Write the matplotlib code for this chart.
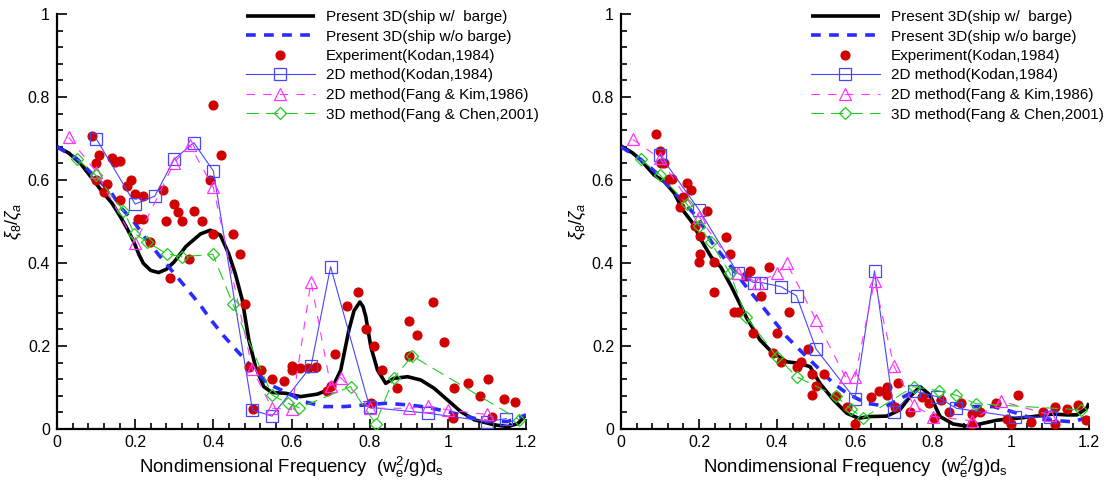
import matplotlib
matplotlib.use("Agg")
import matplotlib.pyplot as plt
from matplotlib.ticker import MultipleLocator

plt.rcParams['font.family'] = ['Liberation Sans', 'DejaVu Sans']
plt.rcParams['mathtext.fontset'] = 'custom'
plt.rcParams['mathtext.rm'] = 'Liberation Sans'
plt.rcParams['mathtext.it'] = 'Liberation Sans:italic'
plt.rcParams['mathtext.bf'] = 'Liberation Sans:bold'
plt.rcParams['lines.scale_dashes'] = False

# ---------------- LEFT PANEL DATA ----------------
L_w_x = [0.0, 0.03, 0.06, 0.093, 0.119, 0.14, 0.162, 0.18, 0.196, 0.21, 0.221, 0.24, 0.26, 0.28,
         0.30, 0.33, 0.367, 0.392, 0.418, 0.439, 0.456, 0.474, 0.491, 0.508, 0.529, 0.55, 0.585,
         0.623, 0.666, 0.704, 0.726, 0.747, 0.76, 0.775, 0.783, 0.79, 0.803, 0.82, 0.841, 0.862,
         0.897, 0.931, 0.965, 0.999, 1.033, 1.068, 1.119, 1.153, 1.179, 1.2]
L_w_y = [0.68, 0.665, 0.64, 0.60, 0.568, 0.545, 0.512, 0.482, 0.452, 0.42, 0.399, 0.382, 0.377, 0.385,
         0.403, 0.44, 0.47, 0.479, 0.467, 0.423, 0.375, 0.311, 0.214, 0.150, 0.102, 0.088, 0.086,
         0.078, 0.084, 0.098, 0.142, 0.239, 0.285, 0.306, 0.295, 0.271, 0.198, 0.142, 0.110, 0.122,
         0.126, 0.118, 0.098, 0.070, 0.042, 0.022, 0.010, 0.006, 0.013, 0.034]

L_wo_x = [0.0, 0.05, 0.1, 0.137, 0.165, 0.196, 0.23, 0.26, 0.32, 0.367, 0.392, 0.426, 0.461, 0.5,
          0.538, 0.591, 0.632, 0.683, 0.734, 0.79, 0.841, 0.9, 0.95, 0.999, 1.05, 1.10, 1.153, 1.2]
L_wo_y = [0.68, 0.652, 0.605, 0.572, 0.532, 0.50, 0.455, 0.42, 0.352, 0.298, 0.265, 0.225, 0.188, 0.148,
          0.11, 0.086, 0.066, 0.054, 0.054, 0.058, 0.062, 0.058, 0.052, 0.042, 0.030, 0.018, 0.018, 0.034]

L_exp_x = [0.089, 0.099, 0.108, 0.099, 0.121, 0.129, 0.140, 0.149, 0.160, 0.160, 0.180, 0.190, 0.199,
           0.219, 0.208, 0.220, 0.238, 0.270, 0.279, 0.290, 0.300, 0.309, 0.320, 0.339, 0.350, 0.370,
           0.391, 0.399, 0.399, 0.420, 0.450, 0.469, 0.480, 0.491, 0.501, 0.521, 0.550, 0.580, 0.600,
           0.602, 0.621, 0.642, 0.662, 0.691, 0.700, 0.711, 0.741, 0.771, 0.791, 0.811, 0.803, 0.832,
           0.871, 0.901, 0.921, 0.901, 0.961, 0.991, 1.016, 1.052, 1.083, 1.102, 1.012, 1.143, 1.173, 1.113]
L_exp_y = [0.706, 0.640, 0.660, 0.600, 0.570, 0.590, 0.652, 0.644, 0.646, 0.552, 0.586, 0.601, 0.566,
           0.562, 0.505, 0.507, 0.451, 0.576, 0.501, 0.365, 0.542, 0.522, 0.501, 0.410, 0.526, 0.501,
           0.600, 0.470, 0.781, 0.660, 0.471, 0.422, 0.301, 0.150, 0.048, 0.141, 0.120, 0.116, 0.152,
           0.141, 0.146, 0.148, 0.150, 0.092, 0.104, 0.181, 0.296, 0.331, 0.241, 0.201, 0.062, 0.141,
           0.100, 0.261, 0.226, 0.176, 0.305, 0.210, 0.100, 0.112, 0.080, 0.120, 0.027, 0.072, 0.066, 0.028]

L_kodan_x = [0.1, 0.2, 0.25, 0.3, 0.35, 0.4, 0.5, 0.55, 0.65, 0.7, 0.8, 0.95, 1.1, 1.15]
L_kodan_y = [0.700, 0.542, 0.561, 0.650, 0.690, 0.622, 0.046, 0.031, 0.151, 0.391, 0.052, 0.038, 0.018, 0.025]

L_kim_x = [0.03, 0.1, 0.2, 0.3, 0.34, 0.4, 0.5, 0.55, 0.6, 0.65, 0.7, 0.726, 0.8, 0.9, 0.95, 1.0, 1.1]
L_kim_y = [0.703, 0.620, 0.448, 0.642, 0.684, 0.582, 0.144, 0.050, 0.047, 0.355, 0.104, 0.124, 0.050,
           0.050, 0.055, 0.046, 0.035]

L_chen_x = [0.052, 0.099, 0.170, 0.198, 0.23, 0.281, 0.321, 0.399, 0.45, 0.55, 0.59, 0.62, 0.751,
            0.815, 0.861, 0.909, 1.183]
L_chen_y = [0.650, 0.612, 0.526, 0.471, 0.451, 0.422, 0.415, 0.421, 0.301, 0.082, 0.062, 0.051, 0.102,
            0.013, 0.122, 0.176, 0.022]

# ---------------- RIGHT PANEL DATA ----------------
R_w_x = [0.0, 0.03, 0.051, 0.085, 0.111, 0.137, 0.158, 0.184, 0.205, 0.231, 0.256, 0.282, 0.303, 0.322,
         0.356, 0.39, 0.425, 0.459, 0.485, 0.51, 0.545, 0.579, 0.609, 0.638, 0.681, 0.715, 0.741, 0.767,
         0.792, 0.818, 0.852, 0.886, 0.92, 0.963, 1.006, 1.057, 1.108, 1.143, 1.169, 1.194, 1.2]
R_w_y = [0.682, 0.665, 0.648, 0.612, 0.596, 0.568, 0.528, 0.496, 0.456, 0.415, 0.39, 0.345, 0.305, 0.268,
         0.215, 0.182, 0.162, 0.158, 0.150, 0.110, 0.070, 0.038, 0.026, 0.030, 0.031, 0.046, 0.078, 0.102,
         0.082, 0.030, 0.012, 0.007, 0.012, 0.021, 0.025, 0.030, 0.036, 0.034, 0.034, 0.05, 0.062]

R_wo_x = [0.0, 0.05, 0.1, 0.132, 0.167, 0.201, 0.231, 0.262, 0.295, 0.327, 0.356, 0.39, 0.425, 0.459,
          0.502, 0.527, 0.545, 0.579, 0.629, 0.68, 0.741, 0.792, 0.835, 0.895, 0.955, 1.002, 1.057,
          1.108, 1.16, 1.2]
R_wo_y = [0.68, 0.65, 0.61, 0.574, 0.540, 0.504, 0.452, 0.415, 0.375, 0.336, 0.303, 0.263, 0.222, 0.190,
          0.150, 0.126, 0.110, 0.086, 0.062, 0.055, 0.086, 0.078, 0.062, 0.054, 0.054, 0.042, 0.025,
          0.021, 0.017, 0.03]

R_exp_x = [0.090, 0.1, 0.103, 0.109, 0.124, 0.131, 0.169, 0.179, 0.160, 0.150, 0.221, 0.190,
           0.2, 0.203, 0.203, 0.239, 0.239, 0.269, 0.279, 0.290, 0.301, 0.320, 0.331, 0.360, 0.380,
           0.339, 0.401, 0.431, 0.391, 0.410, 0.450, 0.461, 0.480, 0.490, 0.520, 0.499, 0.490, 0.551,
           0.580, 0.600, 0.640, 0.661, 0.681, 0.681, 0.711, 0.702, 0.741, 0.771, 0.791, 0.803, 0.820,
           0.842, 0.871, 0.901, 0.901, 0.921, 0.961, 0.991, 1.001, 1.017, 1.051, 1.083, 1.113, 1.113,
           1.143, 1.173, 1.192]
R_exp_y = [0.711, 0.671, 0.642, 0.640, 0.602, 0.602, 0.592, 0.576, 0.560, 0.534, 0.526, 0.488,
           0.402, 0.466, 0.422, 0.402, 0.331, 0.462, 0.422, 0.283, 0.283, 0.369, 0.381, 0.321, 0.391,
           0.232, 0.232, 0.283, 0.182, 0.161, 0.150, 0.161, 0.193, 0.132, 0.132, 0.104, 0.082, 0.080,
           0.052, 0.012, 0.076, 0.091, 0.102, 0.082, 0.112, 0.052, 0.042, 0.078, 0.062, 0.027, 0.071,
           0.042, 0.062, 0.036, 0.013, 0.042, 0.062, 0.024, 0.013, 0.082, 0.018, 0.042, 0.052, 0.012,
           0.048, 0.058, 0.022]

R_kodan_x = [0.1, 0.2, 0.3, 0.34, 0.36, 0.41, 0.45, 0.5, 0.6, 0.65, 0.7, 0.75, 0.81, 0.86, 1.01, 1.1]
R_kodan_y = [0.660, 0.528, 0.375, 0.353, 0.353, 0.343, 0.321, 0.193, 0.072, 0.381, 0.041, 0.092, 0.078,
             0.050, 0.029, 0.028]

R_kim_x = [0.03, 0.1, 0.2, 0.3, 0.35, 0.4, 0.425, 0.5, 0.575, 0.6, 0.65, 0.7, 0.75, 0.8, 0.9, 0.975, 1.1]
R_kim_y = [0.698, 0.652, 0.512, 0.376, 0.353, 0.375, 0.400, 0.263, 0.126, 0.126, 0.356, 0.151, 0.058,
           0.030, 0.020, 0.067, 0.034]

R_chen_x = [0.05, 0.1, 0.17, 0.2, 0.23, 0.28, 0.32, 0.4, 0.45, 0.55, 0.59, 0.62, 0.75, 0.815, 0.86, 0.91, 1.18]
R_chen_y = [0.650, 0.612, 0.541, 0.490, 0.450, 0.375, 0.271, 0.174, 0.126, 0.080, 0.048, 0.026, 0.102,
            0.092, 0.081, 0.061, 0.046]

labels = ["Present 3D(ship w/  barge)", "Present 3D(ship w/o barge)", "Experiment(Kodan,1984)",
          "2D method(Kodan,1984)", "2D method(Fang & Kim,1986)", "3D method(Fang & Chen,2001)"]
x_ticks = [0, 0.2, 0.4, 0.6, 0.8, 1.0, 1.2]
x_ticklabels = ["0", "0.2", "0.4", "0.6", "0.8", "1", "1.2"]
y_ticks = [0, 0.2, 0.4, 0.6, 0.8, 1.0]
y_ticklabels = ["0", "0.2", "0.4", "0.6", "0.8", "1"]

C_BLACK = "#000000"
C_BLUE_D = "#2b2bff"
C_RED = "#d10000"
C_BLUE = "#4646ff"
C_MAG = "#ff33ff"
C_GREEN = "#22cc22"

fig = plt.figure(figsize=(11.07, 4.83), dpi=100)
W, H = 1107, 483
axL = fig.add_axes([57 / W, 1 - 429 / H, (526 - 57) / W, (429 - 14) / H])
axR = fig.add_axes([621 / W, 1 - 429 / H, (1089 - 621) / W, (429 - 14) / H])


def draw(ax, wx, wy, wox, woy, ex, ey, kx, ky, fx, fy, cx, cy):
    h1, = ax.plot(wx, wy, color=C_BLACK, lw=2.6, solid_capstyle='butt', zorder=3)
    h2, = ax.plot(wox, woy, color=C_BLUE_D, lw=2.6, dashes=(7, 6), zorder=3.5)
    h4, = ax.plot(kx, ky, color=C_BLUE, lw=0.8, marker='s', ms=8, mfc='none', mec=C_BLUE,
                  mew=0.9, zorder=4)
    h5, = ax.plot(fx, fy, color=C_MAG, lw=0.8, dashes=(6, 6), marker='^', ms=8.5, mfc='none',
                  mec=C_MAG, mew=0.9, zorder=4.2)
    h6, = ax.plot(cx, cy, color=C_GREEN, lw=0.8, dashes=(9, 5), marker='D', ms=6.5, mfc='none',
                  mec=C_GREEN, mew=0.9, zorder=4.4)
    h3, = ax.plot(ex, ey, ls='none', marker='o', ms=6.3, color=C_RED, mec=C_RED, zorder=3.8)
    ax.set_xlim(0, 1.2)
    ax.set_ylim(0, 1)
    for s in ['top', 'right']:
        ax.spines[s].set_visible(False)
    for s in ['left', 'bottom']:
        ax.spines[s].set_linewidth(1.6)
    ax.set_xticks(x_ticks)
    ax.set_xticklabels(x_ticklabels)
    ax.set_yticks(y_ticks)
    ax.set_yticklabels(y_ticklabels)
    ax.xaxis.set_minor_locator(MultipleLocator(0.04))
    ax.yaxis.set_minor_locator(MultipleLocator(0.04))
    ax.tick_params(which='major', direction='in', length=7, width=1.2, labelsize=11.5)
    ax.tick_params(axis='x', which='major', pad=4.5)
    ax.tick_params(axis='y', which='major', pad=5)
    ax.tick_params(which='minor', direction='in', length=4.5, width=1.2)
    ax.set_xlabel(r"Nondimensional Frequency  (w$\mathregular{_e^2}$/g)d$\mathregular{_s}$",
                  fontsize=13.4, labelpad=3)
    ax.set_ylabel(r"$\xi_8/\zeta_a$", fontsize=13)
    ax.yaxis.set_label_coords(-0.07, 0.5)
    return [h1, h2, h3, h4, h5, h6]


hL = draw(axL, L_w_x, L_w_y, L_wo_x, L_wo_y, L_exp_x, L_exp_y, L_kodan_x, L_kodan_y,
          L_kim_x, L_kim_y, L_chen_x, L_chen_y)
hR = draw(axR, R_w_x, R_w_y, R_wo_x, R_wo_y, R_exp_x, R_exp_y, R_kodan_x, R_kodan_y,
          R_kim_x, R_kim_y, R_chen_x, R_chen_y)

for ax, hs, xl in [(axL, hL, 246), (axR, hR, 811)]:
    ax.legend(hs, labels, loc='upper left', bbox_to_anchor=(xl / W, 1 - 10 / H),
              bbox_transform=fig.transFigure, frameon=False, fontsize=11,
              handlelength=4.5, handletextpad=0.75, labelspacing=0.36, borderpad=0,
              borderaxespad=0, numpoints=1)

fig.savefig("out.png", dpi=100)
